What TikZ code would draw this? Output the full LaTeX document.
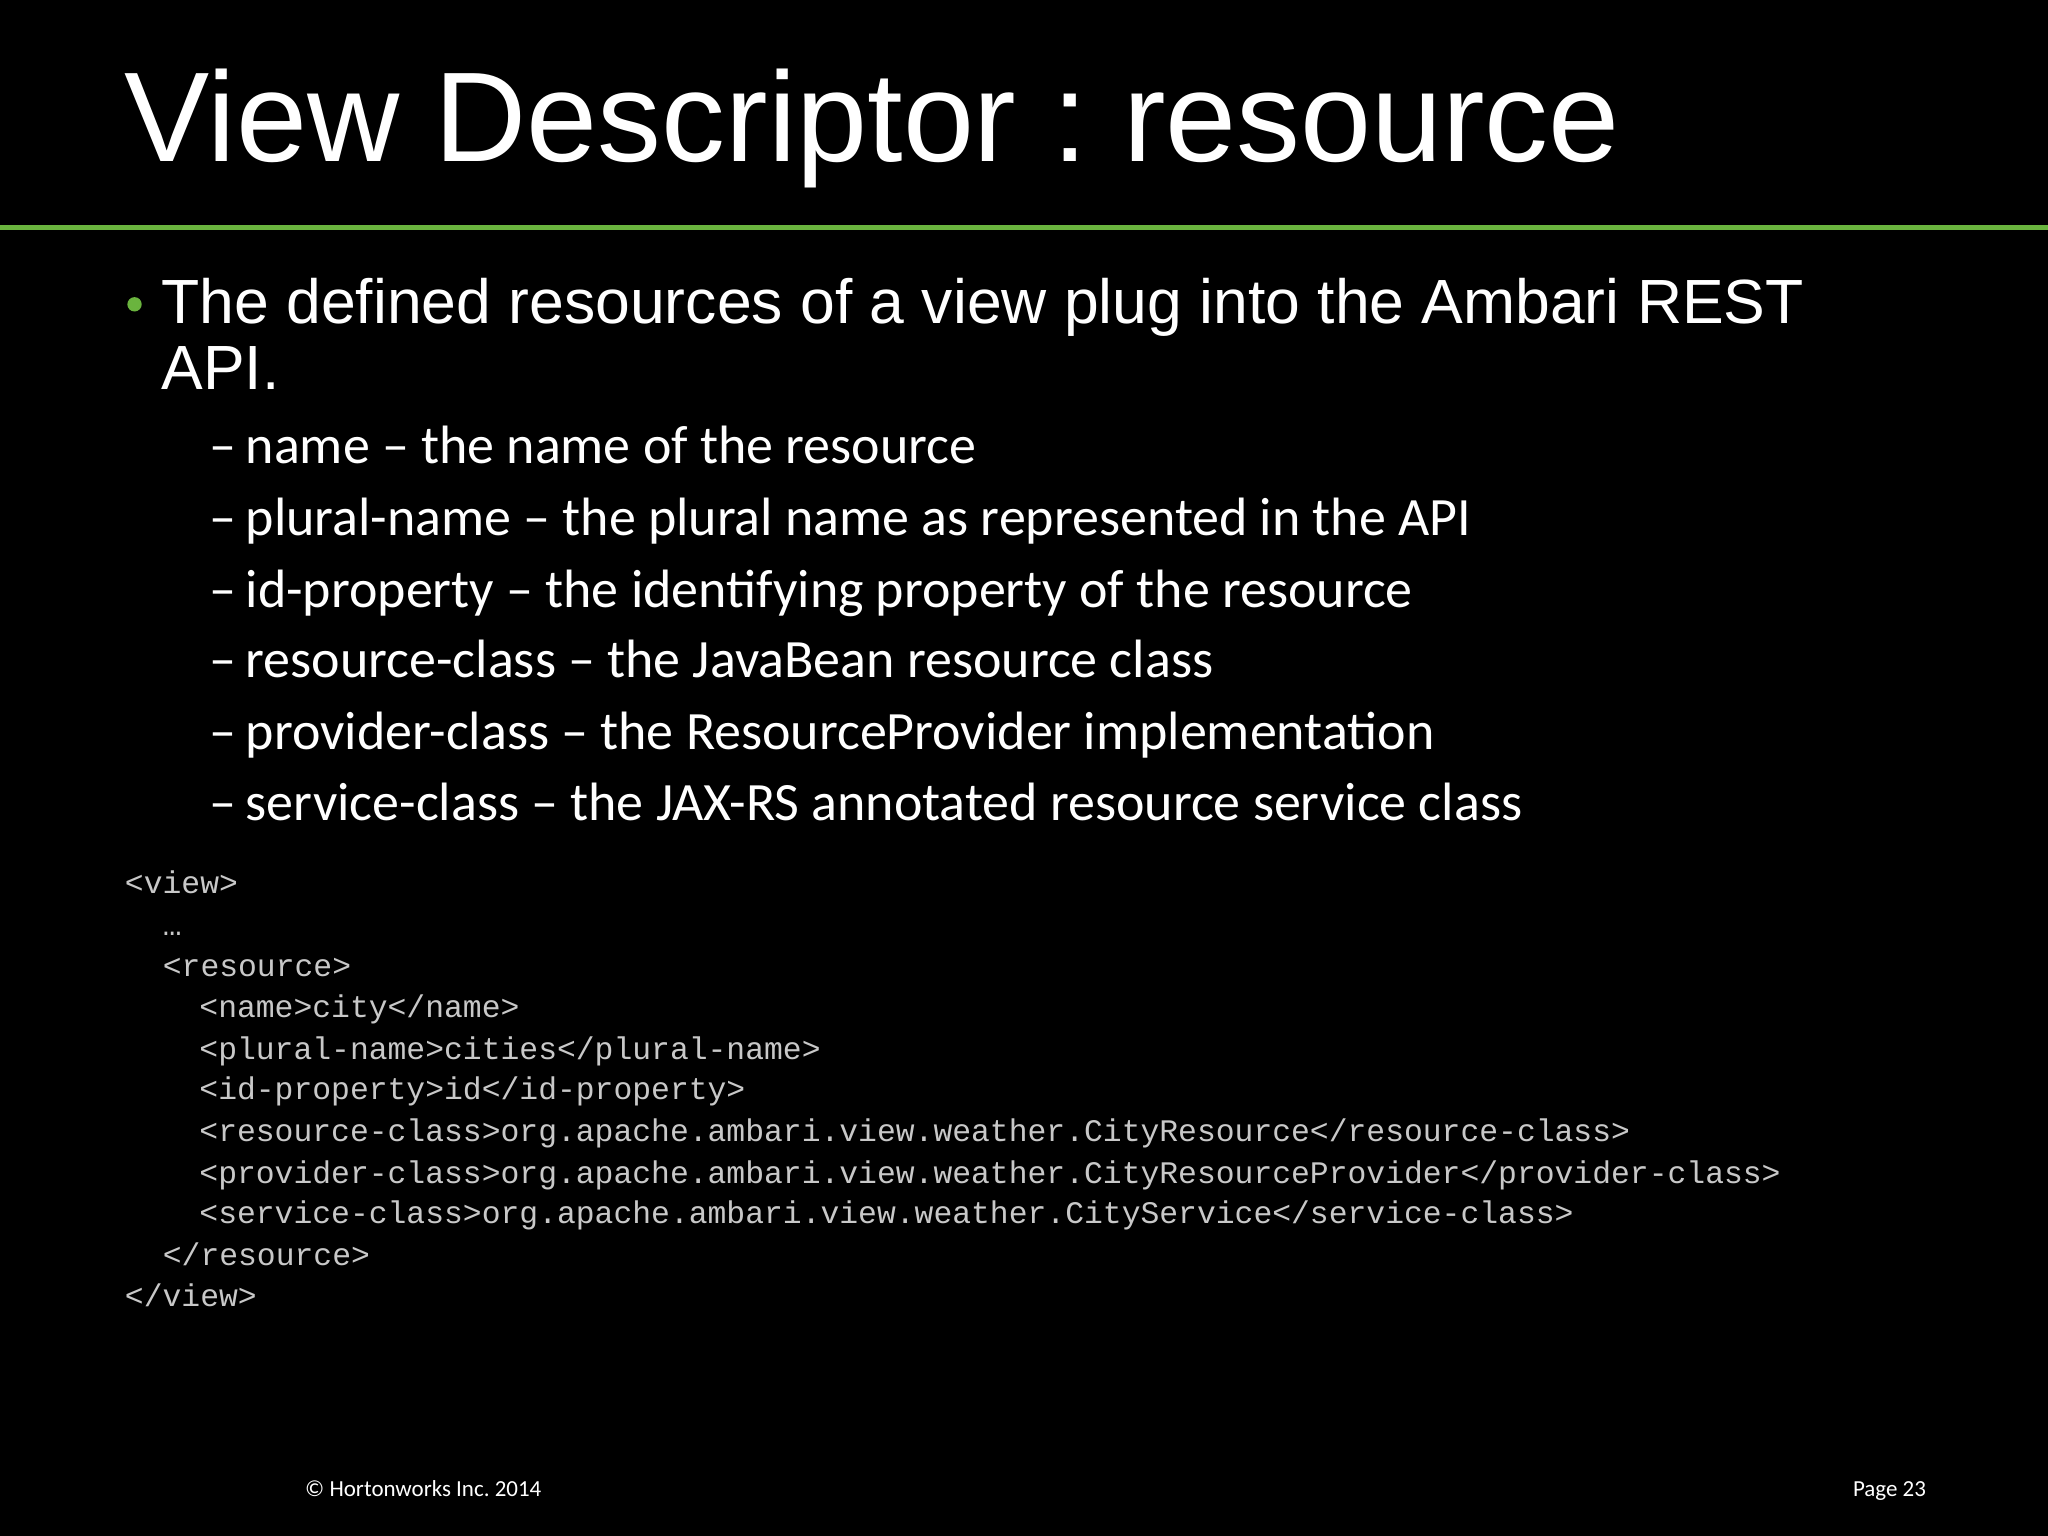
\documentclass[tikz,border=0pt]{standalone}
\usepackage{fontspec}
\setmainfont{Liberation Sans}
\newfontfamily\calfont{Carlito}
\newfontfamily\monofont{Liberation Mono}
\definecolor{hgreen}{RGB}{106,180,62}
\definecolor{codegrey}{RGB}{200,200,200}
\frenchspacing
\begin{document}
\begin{tikzpicture}[x=0.01cm,y=-0.01cm,
  t/.style={anchor=base west,inner sep=0,text=white},
  sub/.style={t,font=\calfont\fontsize{11.75}{13}\selectfont},
  code/.style={t,text=codegrey,font=\monofont\fontsize{6.83}{8}\selectfont}]
\fill[black] (0,0) rectangle (1568,1176);
\useasboundingbox (0,0) rectangle (1568,1176);
\node[t,font=\fontsize{27.8}{32}\selectfont] (title) at (95,124) {View Descriptor : resource};
\fill[hgreen] (0,172) rectangle (1568,176);
\fill[hgreen] (103,233) circle (5.5);
\node[t,font=\fontsize{13.6}{16}\selectfont] (b1) at (123,248) {The defined resources of a view plug into the Ambari REST};
\node[t,font=\fontsize{13.6}{16}\selectfont] (b2) at (123,298) {API.};
\node[sub] (s1) at (160,355) {–\,name – the name of the resource};
\node[sub] (s2) at (160,410) {–\,plural-name – the plural name as represented in the API};
\node[sub] (s3) at (160,465) {–\,id-property – the identifying property of the resource};
\node[sub] (s4) at (160,519) {–\,resource-class – the JavaBean resource class};
\node[sub] (s5) at (160,574) {–\,provider-class – the ResourceProvider implementation};
\node[sub] (s6) at (160,628) {–\,service-class – the JAX-RS annotated resource service class};
\node[code] (c1) at (95,684) {<view>};
\node[code] (c2) at (124,716) {…};
\node[code] (c3) at (124,748) {<resource>};
\node[code] (c4) at (152,779) {<name>city</name>};
\node[code] (c5) at (152,811) {<plural-name>cities</plural-name>};
\node[code] (c6) at (152,842) {<id-property>id</id-property>};
\node[code] (c7) at (152,874) {<resource-class>org.apache.ambari.view.weather.CityResource</resource-class>};
\node[code] (c8) at (152,906) {<provider-class>org.apache.ambari.view.weather.CityResourceProvider</provider-class>};
\node[code] (c9) at (152,937) {<service-class>org.apache.ambari.view.weather.CityService</service-class>};
\node[code] (c10) at (124,969) {</resource>};
\node[code] (c11) at (95,1000) {</view>};
\node[t,font=\calfont\fontsize{5.0}{6}\selectfont] (f1) at (233,1146) {© Hortonworks Inc. 2014};
\node[t,font=\calfont\fontsize{5.0}{6}\selectfont] (f2) at (1418,1146) {Page 23};
\end{tikzpicture}
\end{document}
